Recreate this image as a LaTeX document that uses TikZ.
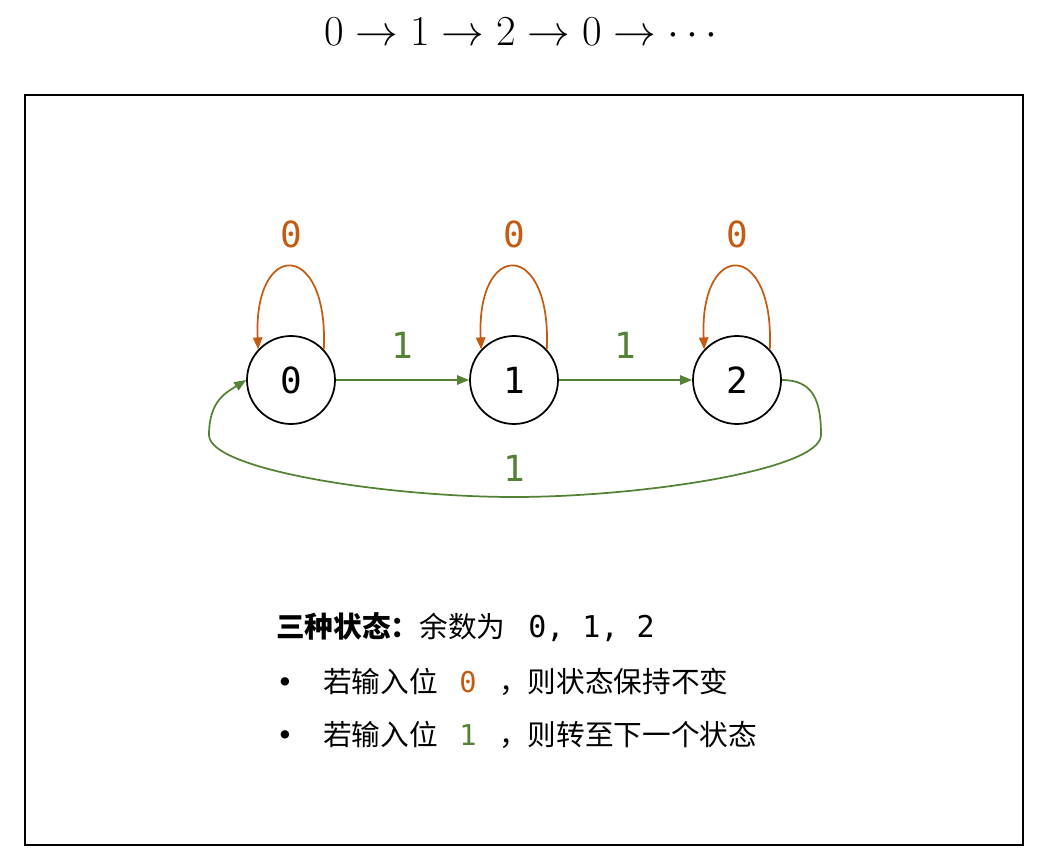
\documentclass[tikz,border=0pt]{standalone}
\usepackage{fix-cm}
\usepackage{fontspec}
\usetikzlibrary{arrows.meta,positioning,calc}
\newfontfamily\cjk{Noto Sans CJK SC}
\newfontfamily\monofont{DejaVu Sans Mono}
\definecolor{bitOrange}{HTML}{C55A11}
\definecolor{bitGreen}{HTML}{548235}

\begin{document}
\begin{tikzpicture}[x=0.75pt,y=-0.75pt,>={Triangle[length=9pt,width=7pt]},
    stnode/.style={draw,circle,line width=1.3pt,minimum size=66pt,inner sep=0pt,font=\monofont\fontsize{27}{30}\selectfont},
    lbl/.style={font=\monofont\fontsize{27}{30}\selectfont,inner sep=0pt},
    txt/.style={anchor=base west,inner sep=0pt,font=\cjk\fontsize{21.5}{25}\selectfont}]
  \useasboundingbox (0,0) rectangle (1042,856);
  \node[font=\fontsize{32}{38}\selectfont] (title) at (521,32) {$0 \to 1 \to 2 \to 0 \to \cdots$};
  \draw[line width=1.8pt] (25,95) rectangle (1023,845);
  % states with their self loops
  \foreach \x/\name/\label in {
    291/s0/0,
    514/s1/1,
    737/s2/2}
  {
    \node[stnode] (\name) at (\x,380) {\label};
    \draw[->,bitOrange,line width=1.3pt] (\name.43) .. controls +(5,-110) and +(-5,-110) .. (\name.137);
    \node[lbl,text=bitOrange] (loop\name) at (\x,234) {0};
  }
  \draw[->,bitGreen,line width=1.3pt] (s0) -- (s1);
  \node[lbl,text=bitGreen] (e01) at ($(s0)!0.5!(s1)+(0,-35)$) {1};
  \draw[->,bitGreen,line width=1.3pt] (s1) -- (s2);
  \node[lbl,text=bitGreen] (e12) at ($(s1)!0.5!(s2)+(0,-35)$) {1};
  \draw[->,bitGreen,line width=1.3pt] (s2.east) .. controls +(31,0) and +(0,-35) .. (821,435)
    .. controls +(0,35) and +(126,0) .. (514,497)
    .. controls +(-126,0) and +(0,35) .. (209,435)
    .. controls +(0,-35) and +(-19,12) .. (s0.west);
  \node[lbl,text=bitGreen] (e20) at (514,468) {1};
  % legend
  \node[txt] (head) at (276,637) {\bfseries 三种状态：\mdseries 余数为\hspace{17pt}{\monofont\fontsize{22.5}{25}\selectfont 0, 1, 2}};
  \node[txt] (dot1) at (276,692) {{\monofont •}};
  \node[txt] (rule1) at (323,692) {若输入位\hspace{16pt}{\monofont\color{bitOrange}0}\hspace{17pt}，则状态保持不变};
  \node[txt] (dot2) at (276,745) {{\monofont •}};
  \node[txt] (rule2) at (323,745) {若输入位\hspace{16pt}{\monofont\color{bitGreen}1}\hspace{17pt}，则转至下一个状态};
\end{tikzpicture}
\end{document}
